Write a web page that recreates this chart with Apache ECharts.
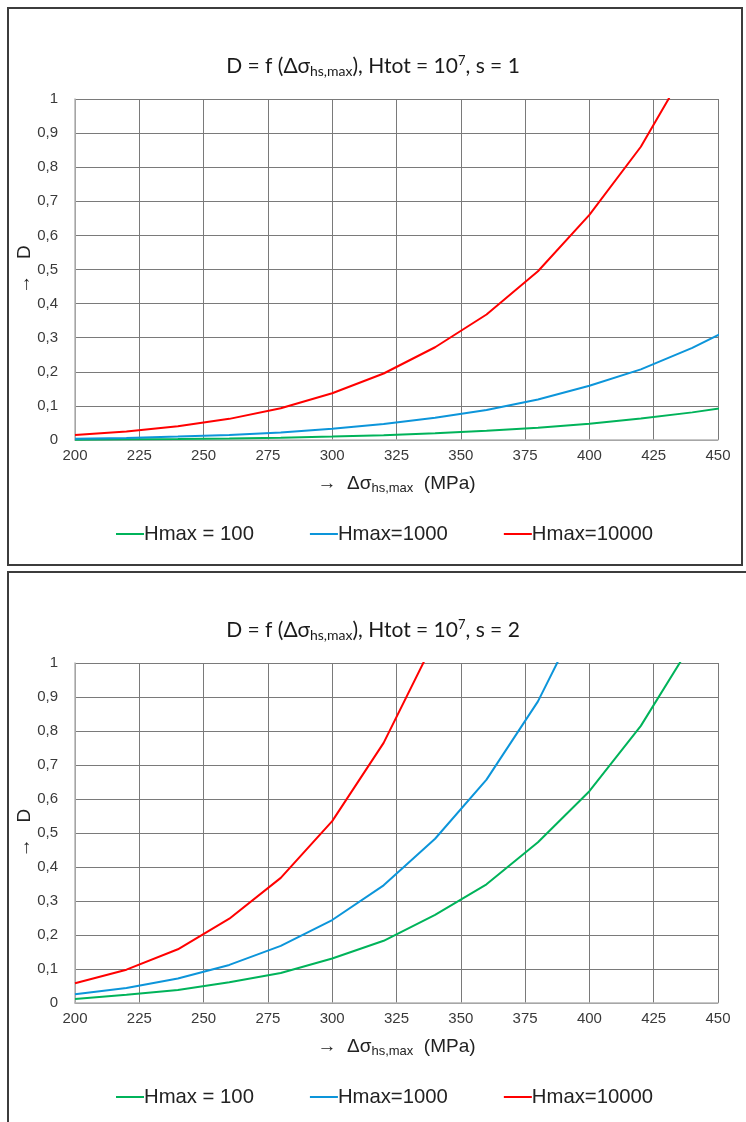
<!DOCTYPE html>
<html>
<head>
<meta charset="utf-8">
<script src="https://cdn.jsdelivr.net/npm/echarts@6/dist/echarts.min.js"></script>
<style>
html,body{margin:0;padding:0;background:#fff;}
#c{width:746px;height:1122px;}
</style>
</head>
<body>
<div id="c"></div>
<script>
// x values (MPa)
const stressX = [200, 220, 240, 260, 280, 300, 320, 340, 360, 380, 400, 420, 440, 460];

// Panel 1: s = 1
const s1_H100   = [0.001, 0.002, 0.003, 0.0045, 0.0068, 0.010, 0.014, 0.020, 0.027, 0.036, 0.048, 0.063, 0.081, 0.103];
const s1_H1000  = [0.004, 0.006, 0.010, 0.015, 0.022, 0.033, 0.047, 0.065, 0.088, 0.119, 0.159, 0.207, 0.27, 0.345];
const s1_H10000 = [0.015, 0.025, 0.040, 0.062, 0.093, 0.137, 0.195, 0.272, 0.368, 0.495, 0.66, 0.86, 1.12, 1.43];

// Panel 2: s = 2
const s2_H100   = [0.012, 0.024, 0.038, 0.061, 0.088, 0.131, 0.183, 0.259, 0.349, 0.473, 0.623, 0.815, 1.06];
const s2_H1000  = [0.026, 0.044, 0.072, 0.112, 0.168, 0.244, 0.346, 0.483, 0.657, 0.887, 1.19];
const s2_H10000 = [0.058, 0.098, 0.158, 0.248, 0.368, 0.535, 0.765, 1.07];

const seriesNames = ['Hmax = 100', 'Hmax=1000', 'Hmax=10000'];
const seriesColors = ['#00b35a', '#0c95da', '#ff0000'];
const titles = [
  'D = f (Δσ{sub|hs,max}), Htot = 10{sup|7}, s = 1',
  'D = f (Δσ{sub|hs,max}), Htot = 10{sup|7}, s = 2'
];
const xAxisName = '→  Δσ{sub|hs,max}  (MPa)';
const yAxisName = '→   D';

function pairs(ys){ return ys.map((v,i)=>[stressX[i], v]); }

const chart = echarts.init(document.getElementById('c'), null, {renderer:'canvas'});

const gridDefs = [
  {left:75, top:99, width:643, height:341},
  {left:75, top:663, width:643, height:340}
];

const labelFont = 'Liberation Sans';
const titleFont = 'Lato';

function xAxisDef(gi){
  return {
    type:'value', gridIndex:gi, min:200, max:450, interval:25,
    axisLine:{show:true, lineStyle:{color:'#b5b5b5', width:1.5}},
    axisTick:{show:false},
    axisLabel:{fontFamily:labelFont, fontSize:15, color:'#3a3a3a', margin:8},
    splitLine:{show:true, lineStyle:{color:'#7a7a7a', width:1}},
    name:xAxisName, nameLocation:'middle', nameGap:32,
    nameTextStyle:{fontFamily:labelFont, fontSize:19, color:'#222',
      rich:{sub:{fontFamily:labelFont, fontSize:13, color:'#222', verticalAlign:'bottom', padding:[10,0,0,0]}}}
  };
}
function yAxisDef(gi){
  return {
    type:'value', gridIndex:gi, min:0, max:1, interval:0.1,
    axisLine:{show:true, lineStyle:{color:'#b5b5b5', width:1.5}},
    axisTick:{show:false},
    axisLabel:{fontFamily:labelFont, fontSize:15, color:'#3a3a3a', margin:17,
      formatter:function(v){ return String(Math.round(v*10)/10).replace('.', ','); }},
    splitLine:{show:true, lineStyle:{color:'#7a7a7a', width:1}},
    name:yAxisName, nameLocation:'middle', nameGap:41, nameRotate:90, nameMoveOverlap:false,
    nameTextStyle:{fontFamily:labelFont, fontSize:19, color:'#222'}
  };
}

const panelData = [[s1_H100, s1_H1000, s1_H10000],[s2_H100, s2_H1000, s2_H10000]];
const series = [];
panelData.forEach((arrs, gi)=>{
  arrs.forEach((ys, si)=>{
    series.push({
      name:seriesNames[si], type:'line', xAxisIndex:gi, yAxisIndex:gi,
      data:pairs(ys), symbol:'none', smooth:false, clip:true,
      lineStyle:{color:seriesColors[si], width:2},
      itemStyle:{color:seriesColors[si]},
      animation:false
    });
  });
});

const titleTops = [49, 613];
const legendTops = [519, 1082];

chart.setOption({
  animation:false,
  backgroundColor:'#fff',
  title: titles.map((t,i)=>({
    text:t, left:'center', top:titleTops[i],
    textStyle:{fontFamily:titleFont, fontSize:21, fontWeight:'normal', color:'#1a1a1a',
      rich:{
        sub:{fontFamily:titleFont, fontSize:14, color:'#1a1a1a', verticalAlign:'bottom', padding:[10,0,0,0]},
        sup:{fontFamily:titleFont, fontSize:13, color:'#1a1a1a', verticalAlign:'top', padding:[0,0,9,0]}
      }}
  })),
  legend: legendTops.map((t)=>({
    data:seriesNames, left:111, top:t, itemWidth:28, itemHeight:14, itemGap:56,
    icon:'path://M0,6 L28,6 L28,8 L0,8 Z',
    textStyle:{fontFamily:labelFont, fontSize:20.3, color:'#222', padding:[0,0,0,-5]}
  })),
  grid: gridDefs,
  xAxis: [xAxisDef(0), xAxisDef(1)],
  yAxis: [yAxisDef(0), yAxisDef(1)],
  series: series,
  graphic: [
    {type:'rect', shape:{x:8, y:8, width:734, height:557}, style:{fill:'none', stroke:'#3c3c3c', lineWidth:2}, silent:true},
    {type:'rect', shape:{x:8, y:572, width:780, height:620}, style:{fill:'none', stroke:'#3c3c3c', lineWidth:2}, silent:true}
  ]
});
</script>
</body>
</html>
